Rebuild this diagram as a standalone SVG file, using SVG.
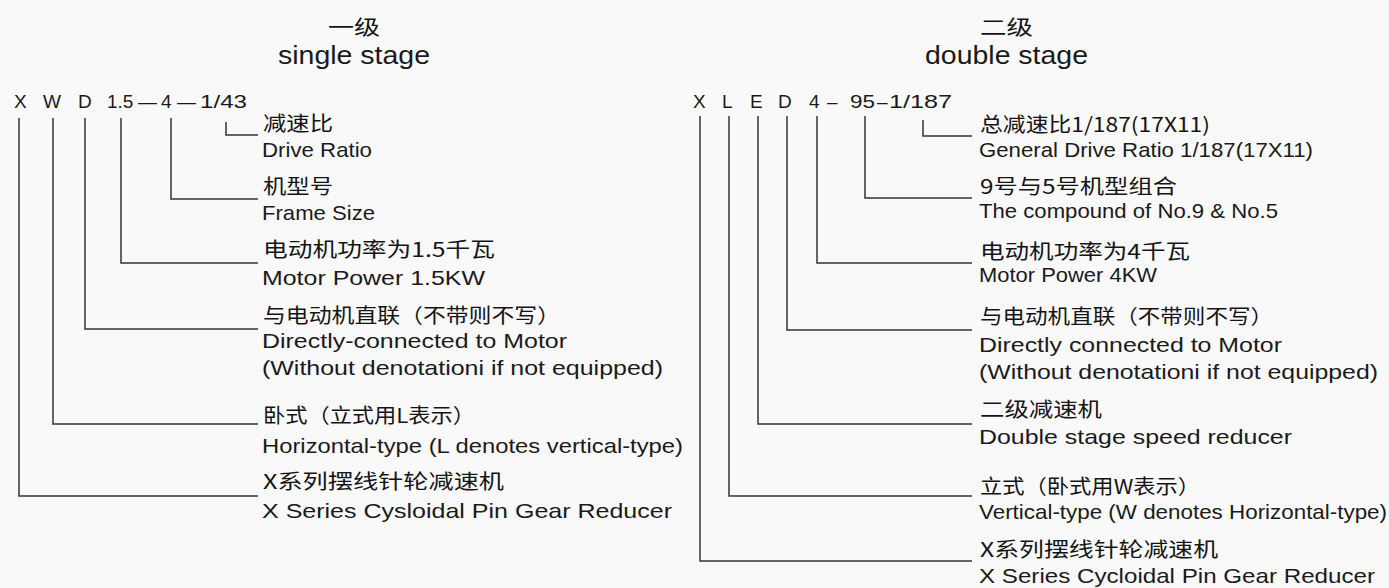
<svg xmlns="http://www.w3.org/2000/svg" width="1389" height="588" viewBox="0 0 1389 588">
<style>
.cn{font-family:"Noto Sans CJK SC","Noto Sans CJK JP",sans-serif;font-size:20px;fill:#141414}
.en{font-family:"Liberation Sans",Arial,sans-serif;font-size:21px;fill:#1a1a1a}
.code{font-family:"Liberation Sans",Arial,sans-serif;font-size:19px;fill:#1a1a1a}
.ttl{font-family:"Liberation Sans",Arial,sans-serif;font-size:26px;fill:#1a1a1a}
.tcn{font-family:"Noto Sans CJK SC","Noto Sans CJK JP",sans-serif;font-size:20px;fill:#141414}
.ln{fill:none;stroke:#333;stroke-width:1.5}
</style>
<rect width="1389" height="588" fill="#f9f9f9"/>
<g id="connectors">
<path class="ln" d="M19,118V496H258"/>
<path class="ln" d="M53,118V424H258"/>
<path class="ln" d="M85,118V329H258"/>
<path class="ln" d="M121,118V263H258"/>
<path class="ln" d="M171,118V199H258"/>
<path class="ln" d="M226,122V135H258"/>
<path class="ln" d="M700,116V561H972"/>
<path class="ln" d="M729,116V496H972"/>
<path class="ln" d="M758,116V424H972"/>
<path class="ln" d="M787,116V330H972"/>
<path class="ln" d="M817,116V263H972"/>
<path class="ln" d="M865,116V198H972"/>
<path class="ln" d="M923,120V136H972"/>
</g>
<g id="title-single">
<text class="tcn" x="328" y="35" textLength="52" lengthAdjust="spacingAndGlyphs">一级</text>
<text class="ttl" x="278" y="64" textLength="152" lengthAdjust="spacingAndGlyphs">single stage</text>
</g>
<g id="title-double">
<text class="tcn" x="980" y="35" textLength="53" lengthAdjust="spacingAndGlyphs">二级</text>
<text class="ttl" x="925" y="64" textLength="163" lengthAdjust="spacingAndGlyphs">double stage</text>
</g>
<g id="code-single">
<text class="code" y="108"><tspan x="14">X</tspan><tspan x="43">W</tspan><tspan x="78">D</tspan><tspan x="107">1.5</tspan><tspan x="138">—</tspan><tspan x="161">4</tspan><tspan x="177">—</tspan></text>
<text class="code" x="200" y="108" textLength="47" lengthAdjust="spacingAndGlyphs">1/43</text>
</g>
<g id="code-double">
<text class="code" y="108"><tspan x="693">X</tspan><tspan x="722">L</tspan><tspan x="750">E</tspan><tspan x="778">D</tspan><tspan x="809">4</tspan><tspan x="827">–</tspan></text>
<text class="code" x="850" y="108" textLength="25" lengthAdjust="spacingAndGlyphs">95</text>
<text class="code" x="877" y="108">–</text>
<text class="code" x="889" y="108" textLength="63" lengthAdjust="spacingAndGlyphs">1/187</text>
</g>
<g id="s-ratio">
<text class="cn" x="263" y="131" textLength="70" lengthAdjust="spacingAndGlyphs">减速比</text>
<text class="en" x="262" y="157" textLength="110" lengthAdjust="spacingAndGlyphs">Drive Ratio</text>
</g>
<g id="s-frame">
<text class="cn" x="263" y="194" textLength="70" lengthAdjust="spacingAndGlyphs">机型号</text>
<text class="en" x="262" y="220" textLength="113" lengthAdjust="spacingAndGlyphs">Frame Size</text>
</g>
<g id="s-power">
<text class="cn" x="263" y="257" textLength="232" lengthAdjust="spacingAndGlyphs">电动机功率为1.5千瓦</text>
<text class="en" x="262" y="285" textLength="223" lengthAdjust="spacingAndGlyphs">Motor Power 1.5KW</text>
</g>
<g id="s-direct">
<text class="cn" x="263" y="323" textLength="297" lengthAdjust="spacingAndGlyphs">与电动机直联（不带则不写）</text>
<text class="en" x="262" y="348" textLength="305" lengthAdjust="spacingAndGlyphs">Directly-connected to Motor</text>
<text class="en" x="262" y="375" textLength="401" lengthAdjust="spacingAndGlyphs">(Without denotationi if not equipped)</text>
</g>
<g id="s-horizontal">
<text class="cn" x="263" y="423" textLength="212" lengthAdjust="spacingAndGlyphs">卧式（立式用L表示）</text>
<text class="en" x="262" y="453" textLength="421" lengthAdjust="spacingAndGlyphs">Horizontal-type (L denotes vertical-type)</text>
</g>
<g id="s-series">
<text class="cn" x="263" y="489" textLength="241" lengthAdjust="spacingAndGlyphs">X系列摆线针轮减速机</text>
<text class="en" x="262" y="518" textLength="410" lengthAdjust="spacingAndGlyphs">X Series Cysloidal Pin Gear Reducer</text>
</g>
<g id="d-ratio">
<text class="cn" x="980" y="132" textLength="230" lengthAdjust="spacingAndGlyphs">总减速比1/187(17X11)</text>
<text class="en" x="979" y="157" textLength="334" lengthAdjust="spacingAndGlyphs">General Drive Ratio 1/187(17X11)</text>
</g>
<g id="d-compound">
<text class="cn" x="980" y="194" textLength="197" lengthAdjust="spacingAndGlyphs">9号与5号机型组合</text>
<text class="en" x="979" y="218" textLength="299" lengthAdjust="spacingAndGlyphs">The compound of No.9 &amp; No.5</text>
</g>
<g id="d-power">
<text class="cn" x="980" y="259" textLength="210" lengthAdjust="spacingAndGlyphs">电动机功率为4千瓦</text>
<text class="en" x="979" y="282" textLength="178" lengthAdjust="spacingAndGlyphs">Motor Power 4KW</text>
</g>
<g id="d-direct">
<text class="cn" x="980" y="324" textLength="293" lengthAdjust="spacingAndGlyphs">与电动机直联（不带则不写）</text>
<text class="en" x="979" y="352" textLength="303" lengthAdjust="spacingAndGlyphs">Directly connected to Motor</text>
<text class="en" x="979" y="379" textLength="399" lengthAdjust="spacingAndGlyphs">(Without denotationi if not equipped)</text>
</g>
<g id="d-double">
<text class="cn" x="980" y="417" textLength="122" lengthAdjust="spacingAndGlyphs">二级减速机</text>
<text class="en" x="979" y="444" textLength="313" lengthAdjust="spacingAndGlyphs">Double stage speed reducer</text>
</g>
<g id="d-vertical">
<text class="cn" x="980" y="494" textLength="220" lengthAdjust="spacingAndGlyphs">立式（卧式用W表示）</text>
<text class="en" x="979" y="519" textLength="408" lengthAdjust="spacingAndGlyphs">Vertical-type (W denotes Horizontal-type)</text>
</g>
<g id="d-series">
<text class="cn" x="980" y="557" textLength="238" lengthAdjust="spacingAndGlyphs">X系列摆线针轮减速机</text>
<text class="en" x="979" y="583" textLength="396" lengthAdjust="spacingAndGlyphs">X Series Cycloidal Pin Gear Reducer</text>
</g>
</svg>
